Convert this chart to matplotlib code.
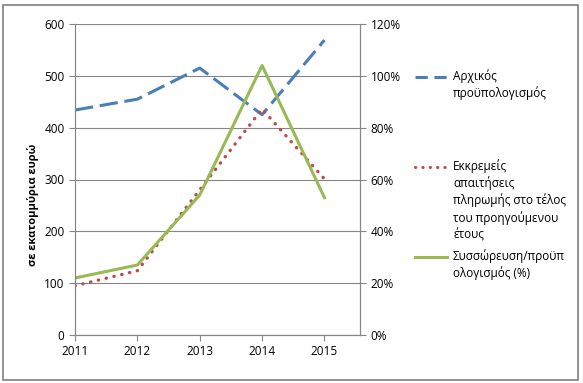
import matplotlib.pyplot as plt
from matplotlib.lines import Line2D
from matplotlib.ticker import FuncFormatter

years = [2011, 2012, 2013, 2014, 2015]
budget = [434, 455, 515, 425, 569]          # Αρχικός προϋπολογισμός
arrears = [95, 124, 280, 436, 301]          # Εκκρεμείς απαιτήσεις
ratio = [22, 27, 54, 104, 53]               # Συσσώρευση/προϋπολογισμός (%)

labels = ["Αρχικός\nπροϋπολογισμός",
          "Εκκρεμείς\nαπαιτήσεις\nπληρωμής στο τέλος\nτου προηγούμενου\nέτους",
          "Συσσώρευση/προϋπ\nολογισμός (%)"]

plt.rcParams['font.family'] = ['Open Sans', 'DejaVu Sans']
W, H = 583, 383
fig = plt.figure(figsize=(W / 100, H / 100), dpi=100)
ax = fig.add_axes([75 / W, 1 - 335 / H, 285 / W, 311 / H])
ax2 = ax.twinx()

blue, red, green = '#4A7EBB', '#BE4B48', '#98B954'
grid = '#868686'
dash_b = dict(dashes=(6, 2.2))
dot_r = dict(linestyle=(0, (0.1, 2.3)), dash_capstyle='round')

ax.plot(years, budget, color=blue, lw=2.2, **dash_b)
ax.plot(years, arrears, color=red, lw=2.4, **dot_r)
ax2.plot(years, ratio, color=green, lw=2.2)

ax.set_xlim(2011, 2015.57)
ax.set_ylim(0, 600)
ax2.set_ylim(0, 120)
ax.set_xticks(years)
ax.set_yticks(range(0, 601, 100))
ax2.set_yticks(range(0, 121, 20))
ax2.yaxis.set_major_formatter(FuncFormatter(lambda v, p: f"{int(v)}%"))
ax.grid(axis='y', color=grid, lw=0.8)
ax.set_axisbelow(True)

for a in (ax, ax2):
    a.spines['top'].set_visible(False)
    for s in ('left', 'right', 'bottom'):
        a.spines[s].set_color(grid)
    a.tick_params(colors=grid, labelcolor='black', labelsize=8.5, length=4, width=0.8)
ax.tick_params(axis='x', pad=3)
ax.set_ylabel("σε εκατομμύρια ευρώ", fontsize=8, fontweight='bold')
ax.yaxis.set_label_coords(-0.125, 0.42)

# legend drawn on figure
hx0, hx1, tx = 415 / W, 447 / W, 453 / W
entries = [(blue, dict(dashes=(4, 2.2)), 77),
           (red, dot_r, 167),
           (green, dict(), 257)]
for (c, st, y), lab in zip(entries, labels):
    yf = 1 - y / H
    fig.add_artist(Line2D([hx0, hx1], [yf, yf], color=c, lw=2.2, transform=fig.transFigure, **st))
    fig.text(tx, yf + 8 / H, lab, fontsize=8.5, va='top', ha='left', linespacing=1.32)

fig.add_artist(plt.Rectangle((3 / W, 3 / H), 575 / W, 375 / H, fill=False,
                             edgecolor='#7f7f7f', lw=1.2, transform=fig.transFigure))
fig.savefig('out.png', dpi=100)
